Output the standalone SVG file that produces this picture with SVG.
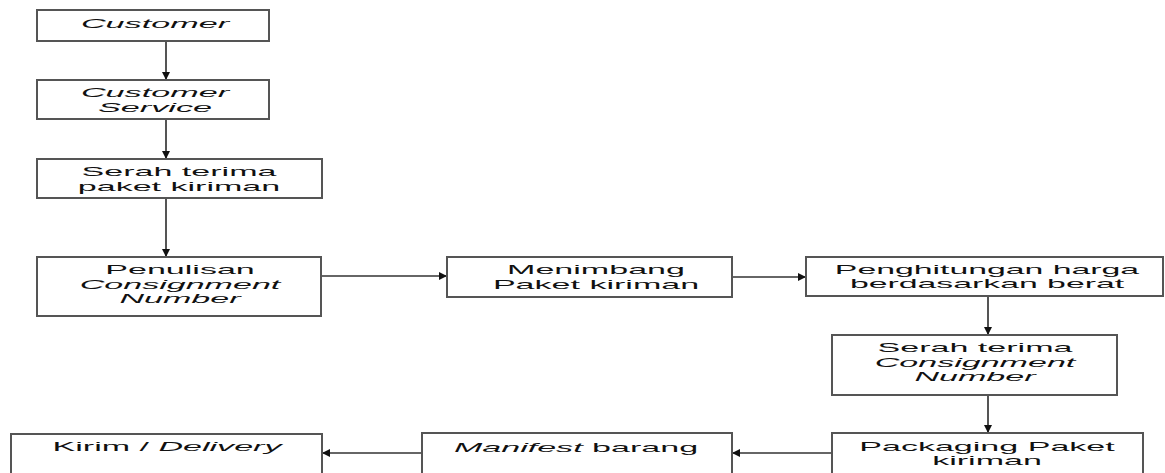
<svg xmlns="http://www.w3.org/2000/svg" width="1165" height="473" viewBox="0 0 1165 473">
<defs>
<style>
.box{fill:#fff;stroke:#555;stroke-width:2}
.t{font-family:"Liberation Sans",Arial,sans-serif;font-size:13px;fill:#111;text-anchor:middle}
.i{font-style:italic}
.c{stroke:#333;stroke-width:1.5;fill:none}
.cv{stroke:#555;stroke-width:2;fill:none}
</style>
<marker id="ah" viewBox="0 0 10 10" refX="10" refY="5" markerWidth="8" markerHeight="9" markerUnits="userSpaceOnUse" orient="auto">
<path d="M0,0 L10,5 L0,10 z" fill="#111"/>
</marker>
</defs>
<rect width="1165" height="473" fill="#fff"/>
<g id="connectors">
<line class="cv" x1="166" y1="41" x2="166" y2="80" marker-end="url(#ah)"/>
<line class="cv" x1="166" y1="119" x2="166" y2="159" marker-end="url(#ah)"/>
<line class="cv" x1="166" y1="198" x2="166" y2="257" marker-end="url(#ah)"/>
<line class="c" x1="321" y1="276" x2="447" y2="276" marker-end="url(#ah)"/>
<line class="c" x1="732" y1="277" x2="806" y2="277" marker-end="url(#ah)"/>
<line class="cv" x1="988" y1="296" x2="988" y2="335" marker-end="url(#ah)"/>
<line class="cv" x1="988" y1="395" x2="988" y2="433" marker-end="url(#ah)"/>
<line class="c" x1="832" y1="453" x2="732" y2="453" marker-end="url(#ah)"/>
<line class="c" x1="422" y1="453" x2="322" y2="453" marker-end="url(#ah)"/>
</g>
<g id="n1"><rect class="box" x="37" y="10" width="232" height="31"/>
<text class="t i" transform="translate(155,28) scale(2.63,1)">Customer</text></g>
<g id="n2"><rect class="box" x="37" y="80" width="232" height="39"/>
<text class="t i" transform="translate(155,97) scale(2.63,1)">Customer</text>
<text class="t i" transform="translate(155,112) scale(2.63,1)">Service</text></g>
<g id="n3"><rect class="box" x="37" y="159" width="285" height="39"/>
<text class="t" transform="translate(179,176) scale(2.62,1)">Serah terima</text>
<text class="t" transform="translate(179,190.5) scale(2.62,1)">paket kiriman</text></g>
<g id="n4"><rect class="box" x="37" y="257" width="284" height="59"/>
<text class="t" transform="translate(180,274) scale(2.62,1)">Penulisan</text>
<text class="t i" transform="translate(180,288.5) scale(2.62,1)">Consignment</text>
<text class="t i" transform="translate(180,303) scale(2.62,1)">Number</text></g>
<g id="n5"><rect class="box" x="447" y="257" width="285" height="40"/>
<text class="t" transform="translate(596,274) scale(2.62,1)">Menimbang</text>
<text class="t" transform="translate(596,288.5) scale(2.62,1)">Paket kiriman</text></g>
<g id="n6"><rect class="box" x="806" y="257" width="357" height="39"/>
<text class="t" transform="translate(987,273.5) scale(2.6,1)">Penghitungan harga</text>
<text class="t" transform="translate(987,288) scale(2.6,1)">berdasarkan berat</text></g>
<g id="n7"><rect class="box" x="832" y="335" width="285" height="60"/>
<text class="t" transform="translate(975,352) scale(2.62,1)">Serah terima</text>
<text class="t i" transform="translate(975,366.5) scale(2.62,1)">Consignment</text>
<text class="t i" transform="translate(975,381) scale(2.62,1)">Number</text></g>
<g id="n8"><rect class="box" x="832" y="433" width="311" height="50"/>
<text class="t" transform="translate(987,451) scale(2.62,1)">Packaging Paket</text>
<text class="t" transform="translate(987,465) scale(2.62,1)">kiriman</text></g>
<g id="n9"><rect class="box" x="422" y="433" width="310" height="50"/>
<text class="t" transform="translate(576,452) scale(2.62,1)"><tspan font-style="italic">Manifest</tspan> barang</text></g>
<g id="n10"><rect class="box" x="11" y="434" width="311" height="50"/>
<text class="t" transform="translate(167,451) scale(2.62,1)">Kirim / <tspan font-style="italic">Delivery</tspan></text></g>
</svg>
